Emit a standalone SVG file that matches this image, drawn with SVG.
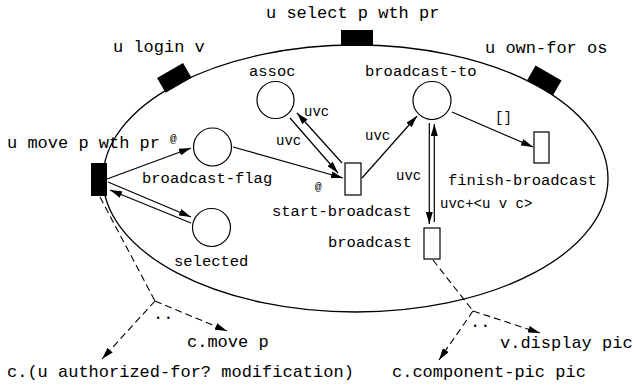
<svg xmlns="http://www.w3.org/2000/svg" width="636" height="386" viewBox="0 0 636 386">
  <style>
    text { font-family: "Liberation Mono", "DejaVu Sans Mono", monospace; fill: #000; }
    .outer { font-size: 17px; }
    .inner { font-size: 15.5px; }
    .small { font-size: 14px; }
    .tiny { font-size: 11px; }
    .place { fill: #fff; stroke: #000; stroke-width: 1.2; }
    .trans { fill: #fff; stroke: #000; stroke-width: 1.2; }
    .port { fill: #000; stroke: none; }
    .arc { fill: none; stroke: #000; stroke-width: 1.2; marker-end: url(#head); }
    .dash { fill: none; stroke: #000; stroke-width: 1.1; stroke-dasharray: 7 4; marker-end: url(#head); }
  </style>
  <defs>
    <marker id="head" viewBox="0 0 12 7" refX="12" refY="3.5" markerWidth="12" markerHeight="7" markerUnits="userSpaceOnUse" orient="auto">
      <path d="M0,0 L12,3.5 L0,7 z" fill="#000"/>
    </marker>
  </defs>
  <rect width="636" height="386" fill="#fff"/>

  <!-- component boundary -->
  <ellipse id="boundary" cx="355.5" cy="178.5" rx="252.5" ry="133.5" fill="none" stroke="#000" stroke-width="1.3"/>

  <!-- interface ports on the boundary -->
  <g id="port-select">
    <rect class="port" x="341" y="30" width="32" height="16"/>
    <text class="outer" x="266" y="18">u select p wth pr</text>
  </g>
  <g id="port-login">
    <rect class="port" x="-15" y="-8.5" width="30" height="17" transform="translate(174.3 77.9) rotate(-30)"/>
    <text class="outer" x="113" y="52">u login v</text>
  </g>
  <g id="port-own">
    <rect class="port" x="-15" y="-8.5" width="30" height="17" transform="translate(544.3 80.3) rotate(30)"/>
    <text class="outer" x="485" y="53">u own-for os</text>
  </g>
  <g id="port-move">
    <rect class="port" x="91" y="163" width="16" height="33"/>
    <text class="outer" x="7" y="148">u move p wth pr</text>
    <text class="tiny" x="170" y="142">@</text>
  </g>

  <!-- places -->
  <g id="assoc">
    <circle class="place" cx="275.5" cy="100" r="18.5"/>
    <text class="inner" x="249" y="76">assoc</text>
  </g>
  <g id="broadcast-flag">
    <circle class="place" cx="212.5" cy="147" r="19"/>
    <text class="inner" x="142" y="183">broadcast-flag</text>
  </g>
  <g id="selected">
    <circle class="place" cx="211.5" cy="227.5" r="19"/>
    <text class="inner" x="174" y="266">selected</text>
  </g>
  <g id="broadcast-to">
    <circle class="place" cx="432" cy="100.5" r="19"/>
    <text class="inner" x="365" y="76">broadcast-to</text>
  </g>

  <!-- transitions -->
  <g id="start-broadcast">
    <rect class="trans" x="345" y="163" width="16" height="32"/>
    <text class="inner" x="272" y="216">start-broadcast</text>
    <text class="tiny" x="315" y="190">@</text>
  </g>
  <g id="finish-broadcast">
    <rect class="trans" x="534" y="132" width="15" height="31"/>
    <text class="inner" x="448" y="185">finish-broadcast</text>
  </g>
  <g id="broadcast">
    <rect class="trans" x="424" y="228" width="16" height="31"/>
    <text class="inner" x="328" y="247">broadcast</text>
  </g>

  <!-- external calls -->
  <g id="call-move">
    <text class="outer" x="187" y="347">c.move p</text>
  </g>
  <g id="call-authorized">
    <text class="outer" x="7" y="377">c.(u authorized-for? modification)</text>
  </g>
  <g id="call-display">
    <text class="outer" x="500" y="348">v.display pic</text>
  </g>
  <g id="call-component-pic">
    <text class="outer" x="392" y="377">c.component-pic pic</text>
  </g>

  <!-- arcs -->
  <g id="connectors">
    <path class="arc" d="M107,179 L191,148"/>
    <path class="arc" d="M108,182 L191,217"/>
    <path class="arc" d="M191,223 L110,190"/>
    <path class="arc" d="M233,147 L343,178"/>
    <path class="arc" d="M290,118 L338,173"/>
    <path class="arc" d="M342,163 L297,113"/>
    <path class="arc" d="M362,178 L417,116"/>
    <path class="arc" d="M452,112 L533,147"/>
    <path class="arc" d="M429.3,123 L429.3,224"/>
    <path class="arc" d="M434.3,222 L434.3,124"/>

    <path class="dash" d="M100,197 L155,301" style="marker-end:none"/>
    <path class="dash" d="M155,301 L227,331"/>
    <path class="dash" d="M155,301 L102,359"/>
    <path class="dash" d="M433,260 L473,311" style="marker-end:none"/>
    <path class="dash" d="M473,311 L540,333"/>
    <path class="dash" d="M473,311 L439,360"/>

    <text class="small" x="304" y="116">uvc</text>
    <text class="small" x="276" y="145">uvc</text>
    <text class="small" x="365" y="140">uvc</text>
    <text class="small" x="396" y="180">uvc</text>
    <text class="small" x="495" y="122">[]</text>
    <text class="small" x="440" y="208">uvc+&lt;u v c&gt;</text>
    <text class="outer" x="153" y="319">..</text>
    <text class="outer" x="470" y="327">..</text>
  </g>
</svg>
